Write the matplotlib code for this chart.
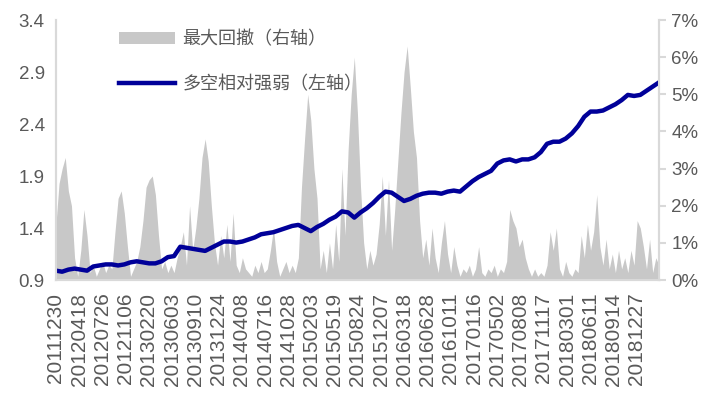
import matplotlib.pyplot as plt
import numpy as np

plt.rcParams['font.family'] = ['Liberation Sans', 'Noto Sans CJK SC', 'DejaVu Sans']

# x tick labels (every 68 trading days)
tick_labels = ['20111230', '20120418', '20120726', '20121106', '20130220', '20130603',
               '20130910', '20131224', '20140408', '20140716', '20141028', '20150203',
               '20150519', '20150824', '20151207', '20160318', '20160628', '20161011',
               '20170116', '20170502', '20170808', '20171117', '20180301', '20180611',
               '20180914', '20181227']
tick_step = 68
n_days = 1765

# long-short relative strength (left axis), evenly sampled over the period
ls_values = [0.99, 0.98, 1.00, 1.01, 1.00, 0.99, 1.03, 1.04, 1.05, 1.05,
             1.04, 1.05, 1.07, 1.08, 1.07, 1.06, 1.06, 1.08, 1.12, 1.13,
             1.22, 1.21, 1.20, 1.19, 1.18, 1.21, 1.24, 1.27, 1.27, 1.26,
             1.27, 1.29, 1.31, 1.34, 1.35, 1.36, 1.38, 1.40, 1.42, 1.43,
             1.40, 1.37, 1.41, 1.44, 1.48, 1.51, 1.56, 1.55, 1.50, 1.55,
             1.59, 1.64, 1.70, 1.75, 1.74, 1.70, 1.66, 1.68, 1.71, 1.73,
             1.74, 1.74, 1.73, 1.75, 1.76, 1.75, 1.80, 1.85, 1.89, 1.92,
             1.95, 2.02, 2.05, 2.06, 2.04, 2.06, 2.06, 2.08, 2.13, 2.21,
             2.23, 2.23, 2.26, 2.31, 2.38, 2.47, 2.52, 2.52, 2.53, 2.56,
             2.59, 2.63, 2.68, 2.67, 2.68, 2.72, 2.76, 2.80]

# max drawdown in % (right axis), evenly sampled over the period
dd_values = [1.5, 2.6, 3.0, 3.3, 2.4, 2.0, 0.6, 0.1, 0.8, 1.9,
             1.2, 0.2, 0.4, 0.1, 0.3, 0.5, 0.2, 0.4, 0.3, 1.3,
             2.2, 2.4, 1.8, 0.9, 0.1, 0.3, 0.5, 0.9, 1.6, 2.5,
             2.7, 2.8, 2.3, 1.2, 0.3, 0.5, 0.2, 0.4, 0.2, 0.6,
             0.9, 1.3, 0.4, 2.0, 0.8, 1.4, 2.2, 3.3, 3.8, 3.2,
             2.0, 1.0, 0.4, 1.2, 0.6, 1.5, 0.5, 1.8, 0.4, 0.2,
             0.6, 0.3, 0.2, 0.1, 0.4, 0.2, 0.5, 0.2, 0.3, 0.8,
             1.4, 0.5, 0.1, 0.3, 0.5, 0.2, 0.4, 0.2, 0.6, 2.5,
             3.8, 5.0, 4.3, 3.0, 2.2, 0.3, 0.8, 0.2, 1.0, 0.3,
             1.5, 0.5, 3.0, 1.2, 3.5, 5.0, 6.0, 4.5, 2.5, 1.0,
             0.3, 0.8, 0.4, 0.7, 1.5, 2.8, 1.2, 2.7, 0.8, 1.9,
             3.2, 4.5, 5.6, 6.3, 5.2, 4.0, 3.3, 1.6, 0.6, 1.1,
             0.4, 1.4, 0.6, 0.2, 1.0, 1.6, 0.7, 0.2, 0.9, 0.4,
             0.1, 0.3, 0.2, 0.4, 0.1, 0.3, 0.9, 0.2, 0.1, 0.3,
             0.2, 0.4, 0.1, 0.3, 0.2, 0.5, 1.9, 1.6, 1.4, 0.9,
             1.1, 0.6, 0.3, 0.1, 0.3, 0.1, 0.2, 0.1, 0.4, 1.3,
             0.8, 1.4, 0.3, 0.1, 0.5, 0.2, 0.1, 0.3, 0.2, 1.2,
             0.6, 1.5, 0.8, 1.3, 2.3, 0.9, 0.4, 1.1, 0.3, 0.7,
             0.2, 0.8, 0.3, 0.6, 0.2, 0.8, 0.4, 1.6, 1.4, 0.9,
             0.3, 1.1, 0.2, 0.6, 0.4]

ls_x = np.linspace(0, n_days, len(ls_values))
dd_x = np.linspace(0, n_days, len(dd_values))
tick_x = np.arange(len(tick_labels)) * tick_step

grey_txt = '#595959'
spine_col = '#D9D9D9'

fig = plt.figure(figsize=(7.17, 3.93), dpi=100)
ax = fig.add_axes([0.078, 0.2875, 0.841, 0.6615])
ax2 = ax.twinx()

ax2.fill_between(dd_x, 0, dd_values, color='#C8C8C8', linewidth=0, label='最大回撤（右轴）')
ax.plot(ls_x, ls_values, color='#000099', linewidth=3.2, label='多空相对强弱（左轴）')

ax.set_zorder(ax2.get_zorder() + 1)
ax.patch.set_visible(False)

ax.set_xlim(0, n_days)
ax.set_ylim(0.9, 3.4)
ax.set_yticks(np.arange(0.9, 3.41, 0.5))
ax.set_yticklabels([f'{v:.1f}' for v in np.arange(0.9, 3.41, 0.5)])
ax2.set_ylim(0, 7)
ax2.set_yticks(range(0, 8))
ax2.set_yticklabels([f'{v}%' for v in range(0, 8)])

ax.set_xticks(tick_x)
ax.set_xticklabels(tick_labels, rotation=90)

for a in (ax, ax2):
    a.spines['top'].set_visible(False)
    for s in ('left', 'right', 'bottom'):
        a.spines[s].set_color(spine_col)
        a.spines[s].set_linewidth(1.5)
ax.tick_params(axis='y', length=0, labelsize=13.5, labelcolor=grey_txt, pad=8)
ax.tick_params(axis='x', length=0, labelsize=15, labelcolor=grey_txt, pad=9)
ax2.tick_params(axis='y', length=5, color=spine_col, width=1.5, labelsize=13.5,
                labelcolor=grey_txt, pad=4)

h1, l1 = ax2.get_legend_handles_labels()
h2, l2 = ax.get_legend_handles_labels()
leg = ax.legend(h1 + h2, l1 + l2, loc='upper left', bbox_to_anchor=(0.078, 1.023),
                frameon=False, fontsize=13, handlelength=3.1, handletextpad=0.4,
                labelspacing=1.5)
for t in leg.get_texts():
    t.set_color(grey_txt)
    t.set_family(['Noto Sans CJK SC', 'DejaVu Sans'])

fig.savefig('out.png', dpi=100)
